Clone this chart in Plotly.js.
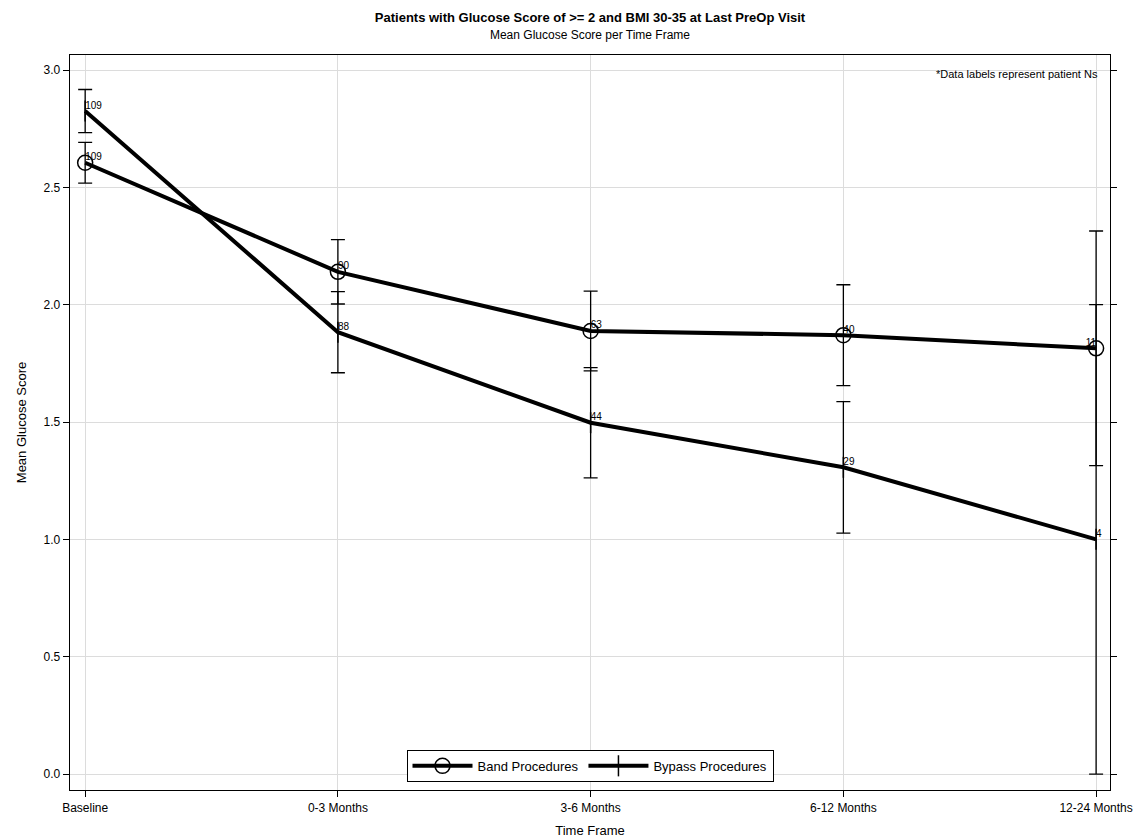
<!DOCTYPE html>
<html>
<head>
<meta charset="utf-8">
<script src="https://cdn.plot.ly/plotly-3.0.1.min.js"></script>
<style>html,body{margin:0;padding:0;background:#fff;}#chart{width:1133px;height:839px;}</style>
</head>
<body>
<div id="chart"></div>
<script>
const timeFrames = ["Baseline", "0-3 Months", "3-6 Months", "6-12 Months", "12-24 Months"];
const bandMean = [2.605, 2.140, 1.888, 1.870, 1.814];
const bandErr = [0.087, 0.137, 0.170, 0.215, 0.500];
const bandN = ["109", "90", "63", "40", "11"];
const bypassMean = [2.825, 1.883, 1.497, 1.307, 1.000];
const bypassErr = [0.092, 0.173, 0.235, 0.280, 1.000];
const bypassN = ["109", "88", "44", "29", "4"];
const yTicks = [0, 0.5, 1.0, 1.5, 2.0, 2.5, 3.0];

const FONT = "Liberation Sans, Arial, sans-serif";

const band = {
  x: timeFrames, y: bandMean, name: "Band Procedures", type: "scatter",
  mode: "lines+markers",
  line: {color: "#000", width: 4},
  marker: {symbol: "circle-open", size: 15, color: "#000", line: {width: 1.5, color: "#000"}},
  error_y: {type: "data", array: bandErr, visible: true, color: "#000", thickness: 1.3, width: 7}
};
const bypass = {
  x: timeFrames, y: bypassMean, name: "Bypass Procedures", type: "scatter",
  mode: "lines+markers",
  line: {color: "#000", width: 4},
  marker: {symbol: "line-ns-open", size: 15, color: "#000", line: {width: 1.5, color: "#000"}},
  error_y: {type: "data", array: bypassErr, visible: true, color: "#000", thickness: 1.3, width: 7}
};
const bandLabels = {
  x: timeFrames, y: bandMean, type: "scatter", mode: "text", text: bandN,
  textposition: ["top right", "top right", "top right", "top right", "top left"],
  textfont: {family: FONT, size: 10, color: "#000000"},
  marker: {color: "#000000"},
  showlegend: false, hoverinfo: "skip", cliponaxis: false
};
const bypassLabels = {
  x: timeFrames, y: bypassMean, type: "scatter", mode: "text", text: bypassN,
  textposition: "top right",
  textfont: {family: FONT, size: 10, color: "#000000"},
  marker: {color: "#000000"},
  showlegend: false, hoverinfo: "skip", cliponaxis: false
};

const layout = {
  width: 1133, height: 839,
  paper_bgcolor: "#fff", plot_bgcolor: "#fff",
  margin: {l: 70, r: 23, t: 55, b: 49},
  font: {family: FONT, size: 12, color: "#000"},
  title: {
    text: "<b>Patients with Glucose Score of >= 2 and BMI 30-35 at Last PreOp Visit</b><br><span style='font-size:12px'>Mean Glucose Score per Time Frame</span>",
    font: {family: FONT, size: 13, color: "#000"},
    x: 0.5, xref: "paper", xanchor: "center", y: 0.974, yref: "container", yanchor: "top"
  },
  xaxis: {
    type: "category", categoryorder: "array", categoryarray: timeFrames,
    range: [-0.06, 4.055],
    showline: true, linecolor: "#000", linewidth: 1.3, mirror: true,
    ticks: "outside", ticklen: 6, tickcolor: "#000",
    showgrid: true, gridcolor: "#dcdcdc", gridwidth: 1,
    tickfont: {family: FONT, size: 12, color: "#000"},
    title: {text: "Time Frame", font: {family: FONT, size: 13, color: "#000"}, standoff: 12},
    zeroline: false
  },
  yaxis: {
    range: [-0.068, 3.064],
    tickvals: yTicks, ticktext: yTicks.map(v => v.toFixed(1)),
    showline: true, linecolor: "#000", linewidth: 1.3, mirror: "ticks",
    ticks: "outside", ticklen: 6, tickcolor: "#000",
    showgrid: true, gridcolor: "#dcdcdc", gridwidth: 1,
    tickfont: {family: FONT, size: 12, color: "#000"},
    title: {text: "Mean Glucose Score", font: {family: FONT, size: 13, color: "#000"}, standoff: 14},
    zeroline: false
  },
  legend: {
    orientation: "h", x: 0.5, xanchor: "center", y: 0.011, yanchor: "bottom",
    bordercolor: "#000", borderwidth: 1, bgcolor: "#fff",
    font: {family: FONT, size: 13, color: "#000"},
    itemwidth: 60, tracegroupgap: 0
  },
  annotations: [{
    text: "*Data labels represent patient Ns", xref: "paper", yref: "paper",
    x: 0.99, y: 0.985, xanchor: "right", yanchor: "top", showarrow: false,
    font: {family: FONT, size: 11, color: "#000"}
  }],
  showlegend: true
};

Plotly.newPlot("chart", [band, bypass, bandLabels, bypassLabels], layout, {displayModeBar: false, staticPlot: true});
</script>
</body>
</html>
